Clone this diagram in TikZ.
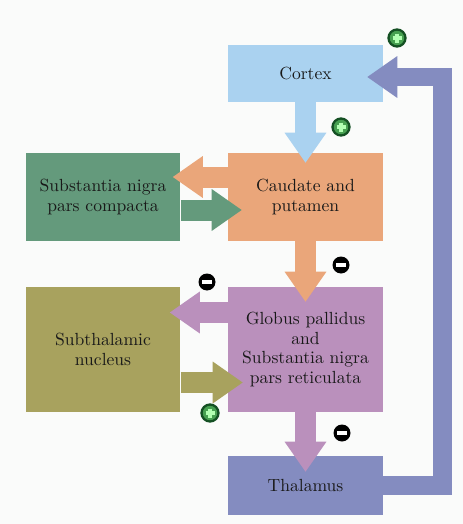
\documentclass[tikz,border=0pt]{standalone}
\usepackage{xcolor}
\usepackage{tikz}
\usetikzlibrary{arrows.meta, calc}
\definecolor{corFundo}{RGB}{250,251,250}
\definecolor{corCortex}{RGB}{170,210,240}
\definecolor{corCaudate}{RGB}{234,166,122}
\definecolor{corSNc}{RGB}{100,154,124}
\definecolor{corGP}{RGB}{186,144,188}
\definecolor{corSTN}{RGB}{168,162,94}
\definecolor{corThal}{RGB}{132,140,192}
\definecolor{corMais}{RGB}{70,160,80}
\definecolor{corMaisBorda}{RGB}{20,80,35}

\begin{document}
\begin{tikzpicture}[x=0.02cm, y=-0.02cm,
          area/.style={rectangle, minimum width=3.1cm, inner sep=2pt, align=center,
            font=\fontsize{10}{11.2}\selectfont, text=black!90},
          flux/.style={line width=0.42cm, -{Triangle[width=0.84cm, length=0.6cm, line width=0pt]}},
          exc/.style={circle, minimum size=0.34cm, inner sep=0pt, fill=corMais, draw=corMaisBorda, line width=1.3pt,
            path picture={\draw[white!70!green, line width=1.8pt] (path picture bounding box.center) +(-4.5,0) -- +(4.5,0)
              (path picture bounding box.center) +(0,-4.5) -- +(0,4.5);}},
          inib/.style={circle, minimum size=0.34cm, inner sep=0pt, fill=black,
            path picture={\draw[white, line width=2pt] (path picture bounding box.center) +(-5,0) -- +(5,0);}}]
        \fill[corFundo] (0,0) rectangle (463,524);
        \node[area, fill=corCortex, minimum height=1.14cm] (ctx) at (305.5,73.5) {Cortex};
        \node[area, fill=corCaudate, minimum height=1.76cm] (cp) at (305.5,197) {Caudate and\\putamen};
        \node[area, fill=corSNc, minimum height=1.78cm] (snc) at (103,197) {Substantia nigra\\pars compacta};
        \node[area, fill=corGP, minimum height=2.5cm] (gp) at (305.5,349.5) {Globus pallidus\\and\\Substantia nigra\\pars reticulata};
        \node[area, fill=corSTN, minimum height=2.52cm] (stn) at (103,349.5) {Subthalamic\\nucleus};
        \node[area, fill=corThal, minimum height=1.18cm] (tal) at (305.5,485.5) {Thalamus};
        % vertical flow
        \draw[flux, corCortex, shorten >=-0.2cm] (ctx.south) -- (cp.north);
        \draw[flux, corCaudate, shorten >=-0.3cm] (cp.south) -- (gp.north);
        \draw[flux, corGP, shorten >=-0.32cm] (gp.south) -- (tal.north);
        % side loops
        \draw[flux, corCaudate, shorten >=-0.16cm] ($(cp.west)+(0,-20)$) -- ($(snc.east)+(0,-20)$);
        \draw[flux, corSNc, shorten >=-0.28cm] ($(snc.east)+(0,13)$) -- ($(cp.west)+(0,13)$);
        \draw[flux, corGP, shorten >=-0.22cm] ($(gp.west)+(0,-37)$) -- ($(stn.east)+(0,-37)$);
        \draw[flux, corSTN, shorten >=-0.3cm] ($(stn.east)+(0,33)$) -- ($(gp.west)+(0,33)$);
        % thalamus back to cortex
        \coordinate (volta) at (442.5,77);
        \draw[flux, corThal, line width=0.38cm, shorten >=-0.32cm] (tal.east) -| (volta) -- (volta -| ctx.east);
        \foreach \x/\y/\n in {397/38/p1, 341/127/p2, 210/413/p3}{\node[exc] (\n) at (\x,\y) {};}
        \foreach \x/\y/\n in {341/265/m1, 207/282/m2, 342/433/m3}{\node[inib] (\n) at (\x,\y) {};}
      \end{tikzpicture}
\end{document}
